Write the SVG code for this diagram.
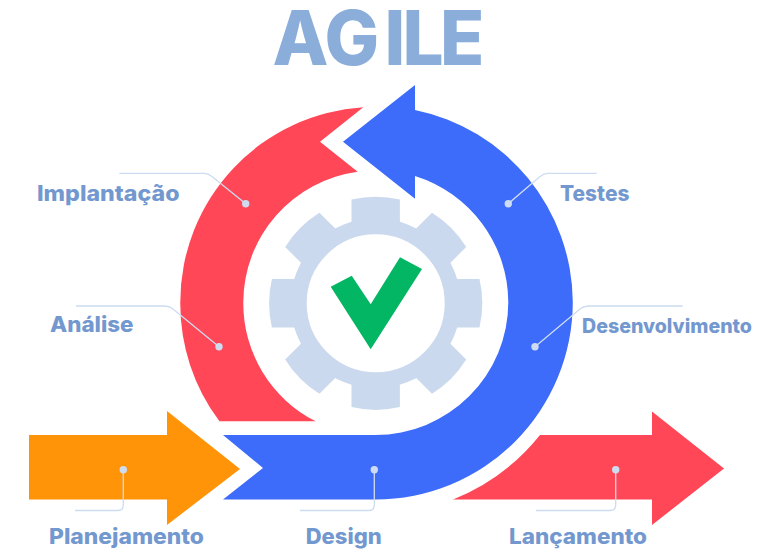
<svg xmlns="http://www.w3.org/2000/svg" width="766" height="550" viewBox="0 0 766 550">
<style>
.t{font-family:"Inter","Liberation Sans",sans-serif;font-weight:800;font-size:21.5px;fill:#7398cf}
.title{font-family:"Inter","Liberation Sans",sans-serif;font-weight:800;font-size:75px;fill:#8aadda}
.l{fill:none;stroke:#cddcf0;stroke-width:1.3}
.d{fill:#cddcf0}
.gear{fill:#cbd9ee}
</style>
<defs>
<path id="tooth" d="M-24.2-80V-103.8A106.6 106.6 0 0 1 24.2-103.8V-80Z"/>
</defs>
<rect width="766" height="550" fill="#fff"/>
<g id="title"><text class="title" transform="translate(272.5 0) scale(.97 1)" x="0 53.6 115.5 134 172.7" y="65">AGILE</text></g>
<g id="shape-lancamento"><path fill="#ff4757" d="M540 435H652V411.5L724 468.5L652 525V499.5H453A212 212 0 0 0 540 435Z"/></g>
<g id="shape-implantacao-analise"><path fill="#ff4757" d="M363.3 107.3A195 195 0 0 0 180.3 302A195 195 0 0 0 219.5 421.3H315.7A132 132 0 0 1 243.3 302A132 132 0 0 1 357.7 171.7L320 141.7Z"/></g>
<g id="shape-design-desenvolvimento-testes"><path fill="#3d6bfa" d="M223 435H375.3A133 133 0 0 0 508.3 302A133 133 0 0 0 415 175.9V198.7L343 141.7L415 85V110A197.5 197.5 0 0 1 572.8 302A197.5 197.5 0 0 1 375.3 499.5H223L263 468Z"/></g>
<g id="shape-planejamento"><path fill="#ff9408" d="M29 435H167V411L240 469L167 525V499.5H29Z"/></g>
<g id="gear" class="gear">
<circle cx="375.7" cy="303.3" r="77" fill="none" stroke="#cbd9ee" stroke-width="16"/>
<use href="#tooth" transform="translate(375.7 303.3)"/>
<use href="#tooth" transform="translate(375.7 303.3) rotate(45)"/>
<use href="#tooth" transform="translate(375.7 303.3) rotate(90)"/>
<use href="#tooth" transform="translate(375.7 303.3) rotate(135)"/>
<use href="#tooth" transform="translate(375.7 303.3) rotate(180)"/>
<use href="#tooth" transform="translate(375.7 303.3) rotate(225)"/>
<use href="#tooth" transform="translate(375.7 303.3) rotate(270)"/>
<use href="#tooth" transform="translate(375.7 303.3) rotate(315)"/>
</g>
<g id="check"><path fill="#02b663" d="M330.7 286.7L351.7 275.7L370.7 304.3L400 257.3L422 269L370.7 349.3Z"/></g>
<g id="connectors">
<path class="l" d="M119.3 173.3H204Q208 173.3 212 176.5L245.7 203.7"/>
<path class="l" d="M76 306H165Q169 306 173 309L219 346.7"/>
<path class="l" d="M596.7 173.3H548Q544 173.3 540 176.5L508.3 203.7"/>
<path class="l" d="M682.7 306H588Q584 306 580 309L535 346.7"/>
<path class="l" d="M123.3 469.7V505Q123.3 510.5 118 510.5H75"/>
<path class="l" d="M374.3 469.7V505Q374.3 510.5 369 510.5H300"/>
<path class="l" d="M615.7 469.7V505Q615.7 510.5 610 510.5H536"/>
<circle class="d" cx="245.7" cy="203.7" r="3.7"/>
<circle class="d" cx="219" cy="346.7" r="3.7"/>
<circle class="d" cx="508.3" cy="203.7" r="3.7"/>
<circle class="d" cx="535" cy="346.7" r="3.7"/>
<circle class="d" cx="123.3" cy="469.7" r="3.7"/>
<circle class="d" cx="374.3" cy="469.7" r="3.7"/>
<circle class="d" cx="615.7" cy="469.7" r="3.7"/>
</g>
<g id="label-implantacao"><text class="t" x="37" y="201" textLength="142.5" lengthAdjust="spacingAndGlyphs">Implantação</text></g>
<g id="label-analise"><text class="t" x="50" y="332" textLength="83.5" lengthAdjust="spacingAndGlyphs">Análise</text></g>
<g id="label-testes"><text class="t" x="560" y="201" textLength="69.5" lengthAdjust="spacingAndGlyphs">Testes</text></g>
<g id="label-desenvolvimento"><text class="t" x="582" y="333" style="font-size:19.8px" textLength="170" lengthAdjust="spacingAndGlyphs">Desenvolvimento</text></g>
<g id="label-planejamento"><text class="t" x="49" y="544" textLength="155" lengthAdjust="spacingAndGlyphs">Planejamento</text></g>
<g id="label-design"><text class="t" x="305.7" y="543.5" textLength="76" lengthAdjust="spacingAndGlyphs">Design</text></g>
<g id="label-lancamento"><text class="t" x="509" y="544" textLength="138" lengthAdjust="spacingAndGlyphs">Lançamento</text></g>
</svg>
